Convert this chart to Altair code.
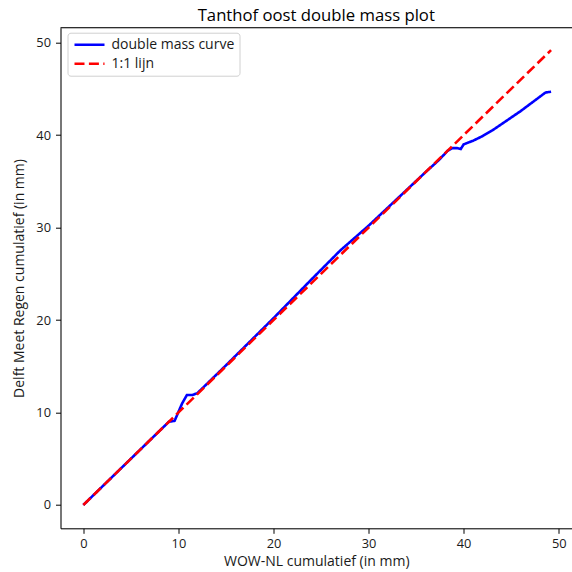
import altair as alt
import pandas as pd

# Cumulative rainfall: WOW-NL (x) against Delft Meet Regen (y), in mm
wow_cum = [0, 3, 6, 9.0, 9.3, 9.6, 10.4, 10.9, 11.5, 12.0, 15, 20, 24, 27, 30, 33, 36,
           37.5, 38.3, 38.8, 39.3, 39.7, 40.0, 41.0, 42.0, 43.0, 46.0, 48.6, 49.2]
dmr_cum = [0, 3.0, 6.0, 9.0, 9.05, 9.1, 11.0, 11.9, 11.9, 12.1, 15.1, 20.2, 24.4, 27.5, 30.2,
           33.1, 36.0, 37.4, 38.3, 38.6, 38.6, 38.5, 39.0, 39.4, 39.9, 40.5, 42.6, 44.6, 44.7]

# 1:1 reference line
ref_x = [0, 49.2]
ref_y = [0, 49.2]

series = ["double mass curve", "1:1 lijn"]
ticks = [0, 10, 20, 30, 40, 50]

curve = pd.DataFrame({"x": wow_cum, "y": dmr_cum, "reeks": series[0], "i": range(len(wow_cum))})
ref = pd.DataFrame({"x": ref_x, "y": ref_y, "reeks": series[1], "i": range(len(ref_x))})

W, H = 511.5, 500.6
font = "Open Sans"
ink = "#1a1a1a"

common_axis = dict(values=ticks, grid=False, tickSize=5, domainColor="black", tickColor="black",
                   labelColor=ink, titleColor=ink, labelFontSize=12.8, titleFontSize=14,
                   titleFontWeight="normal", labelFont=font, titleFont=font)

x_enc = alt.X("x:Q", scale=alt.Scale(domain=[-2.4, 51.4], nice=False, zero=False),
              axis=alt.Axis(title="WOW-NL cumulatief (in mm)", labelPadding=4, titlePadding=4,
                            **common_axis))
y_enc = alt.Y("y:Q", scale=alt.Scale(domain=[-2.52, 51.62], nice=False, zero=False),
              axis=alt.Axis(title="Delft Meet Regen cumulatief (in mm)", labelPadding=5,
                            titlePadding=9, **common_axis))

# legend handle: a horizontal line drawn as a custom path, so the rows stay compact
color_enc = alt.Color("reeks:N", scale=alt.Scale(domain=series, range=["#0000ff", "#ff0000"]),
                      legend=alt.Legend(title=None, orient="none", legendX=7, legendY=5,
                                        symbolType="M-1,0H5", symbolSize=100,
                                        symbolStrokeWidth=2.6,
                                        labelFontSize=14, labelFont=font, labelColor=ink,
                                        strokeColor="#d0d0d0", fillColor="white", padding=5,
                                        cornerRadius=3, rowPadding=5, labelOffset=25))
dash_enc = alt.StrokeDash("reeks:N", scale=alt.Scale(domain=series, range=[[1, 0], [10, 4.4]]),
                          legend=None)

blue = alt.Chart(curve).mark_line(strokeWidth=2.6).encode(
    x=x_enc, y=y_enc, color=color_enc, strokeDash=dash_enc, order="i:Q")
red = alt.Chart(ref).mark_line(strokeWidth=2.6).encode(
    x=x_enc, y=y_enc, color=color_enc, strokeDash=dash_enc, order="i:Q")

# upper frame line of the axes box
top_frame = alt.Chart(pd.DataFrame({"k": [0]})).mark_rule(color="black", strokeWidth=1).encode(
    x=alt.value(0), x2=alt.value(W), y=alt.value(0))

chart = alt.layer(blue, red, top_frame).properties(
    width=W, height=H,
    title=alt.TitleParams("Tanthof oost double mass plot", fontSize=16.7, font=font,
                          fontWeight="normal", color="black", anchor="middle", offset=3),
    padding={"left": 60.5, "top": 27.7, "right": 0, "bottom": 43.7},
    autosize="none",
).configure_view(stroke=None).configure(background="white")

chart.save("out.html", embed_options={"renderer": "svg", "actions": False})
